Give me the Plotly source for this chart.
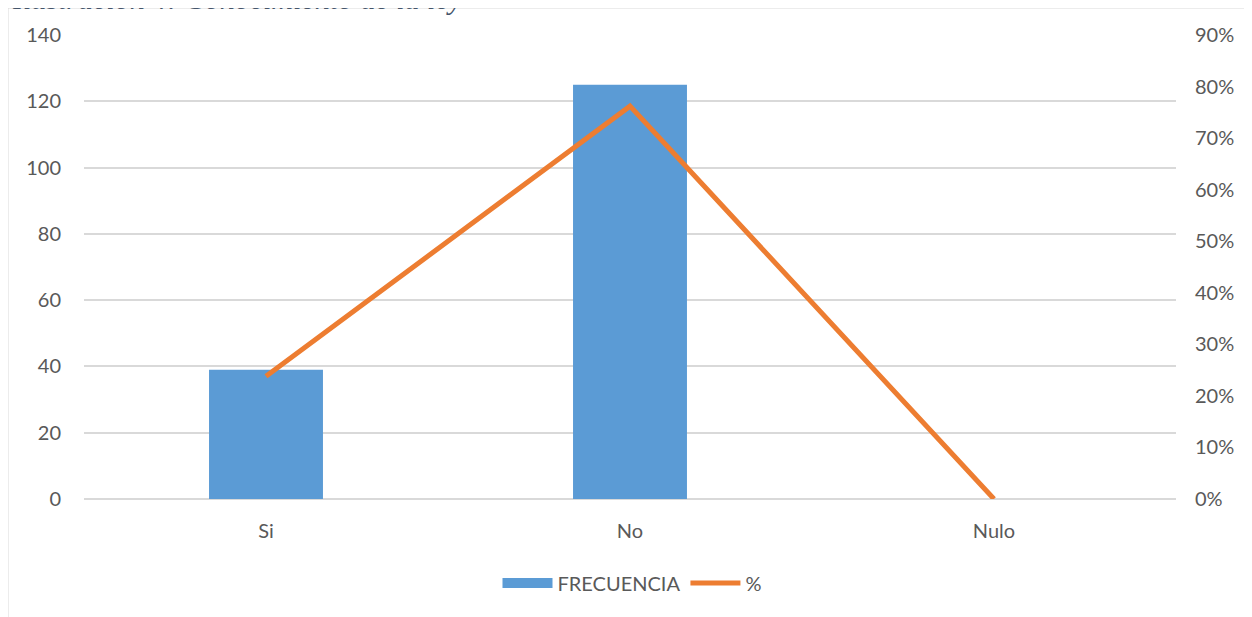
import plotly.graph_objects as go

categories = ["Si", "No", "Nulo"]
frecuencia = [39, 125, 0]
porcentaje = [0.238, 0.762, 0.0]

left_ticks = [0, 20, 40, 60, 80, 100, 120, 140]
right_ticks = [0, 0.1, 0.2, 0.3, 0.4, 0.5, 0.6, 0.7, 0.8, 0.9]

font_fam = "Lato, 'Open Sans', Arial, sans-serif"
txt_col = "#595959"
grid_col = "#d9d9d9"
bar_col = "#5B9BD5"
line_col = "#ED7D31"
fs = 20

fig = go.Figure()
fig.add_trace(go.Bar(
    x=categories, y=frecuencia, name="FRECUENCIA",
    marker=dict(color=bar_col, line=dict(width=0)),
    yaxis="y", showlegend=False,
))
# legend swatch styled as a wide rectangle
fig.add_trace(go.Scatter(
    x=[None], y=[None], name="FRECUENCIA", mode="lines",
    line=dict(color=bar_col, width=14), yaxis="y",
))
fig.add_trace(go.Scatter(
    x=categories, y=porcentaje, name="%", mode="lines",
    line=dict(color=line_col, width=5),
    yaxis="y2",
))

OFF = 8  # page body offset
W, H = 1252 - OFF, 617 - OFF
# plot area in screen pixels: x 84..1176, y 35..499
ml, mt = 84 - OFF, 35 - OFF
mr = W - (1176 - OFF)
mb = H - (499 - OFF)
pw, ph = W - ml - mr, H - mt - mb

def px_x(sx):
    return (sx - OFF - ml) / pw

def px_y(sy):
    return 1 - (sy - OFF - mt) / ph

fig.update_layout(
    width=W, height=H,
    margin=dict(l=ml, r=mr, t=mt, b=mb),
    paper_bgcolor="white", plot_bgcolor="white",
    bargap=0.687,
    showlegend=True,
    legend=dict(orientation="h", x=px_x(632), xanchor="center",
                y=px_y(583), yanchor="middle",
                font=dict(family=font_fam, size=fs, color=txt_col),
                itemwidth=50, traceorder="normal"),
    font=dict(family=font_fam, size=fs, color=txt_col),
    xaxis=dict(showgrid=False, showline=False, ticks="",
               tickfont=dict(size=fs, color=txt_col),
               ticklabelstandoff=18, zeroline=False),
    yaxis=dict(range=[0, 140], tickvals=left_ticks, showgrid=True,
               gridcolor=grid_col, gridwidth=1.5, zeroline=True,
               zerolinecolor=grid_col, zerolinewidth=1.5, showline=False,
               ticks="", ticklabelstandoff=22,
               tickfont=dict(size=fs, color=txt_col)),
    yaxis2=dict(range=[0, 0.9], tickvals=right_ticks, tickformat=".0%",
                overlaying="y", side="right", showgrid=False,
                zeroline=False, showline=False, ticks="",
                ticklabelstandoff=18,
                tickfont=dict(size=fs, color=txt_col)),
    shapes=[dict(type="rect", xref="paper", yref="paper",
                 x0=px_x(7.5), x1=1.2,
                 y0=-0.6, y1=px_y(7.5),
                 line=dict(color=grid_col, width=2), fillcolor="rgba(0,0,0,0)",
                 layer="below")],
    annotations=[dict(text="<i>Ilustración 4: Conocimiento de la ley</i>",
                      xref="paper", yref="paper",
                      x=px_x(10), xanchor="left",
                      y=px_y(17), yanchor="bottom",
                      showarrow=False,
                      font=dict(family="'Liberation Serif', serif", size=30,
                                color="#44546A"))],
)

fig.write_html("out.html")
